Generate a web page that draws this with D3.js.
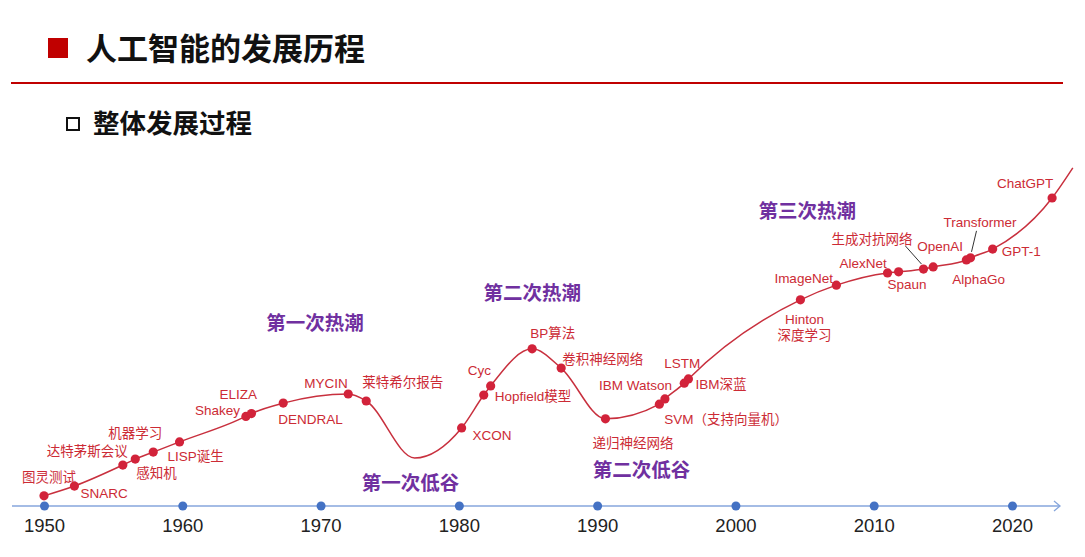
<!DOCTYPE html>
<html>
<head>
<meta charset="utf-8">
<script src="https://cdn.jsdelivr.net/npm/d3@7"></script>
<style>
body { margin: 0; background: #fff; }
svg { display: block; font-family: "Liberation Sans", Arial, "Noto Sans CJK SC", sans-serif; }
</style>
</head>
<body>
<svg id="chart" width="1085" height="557"></svg>
<script>
var W = 1085, H = 557;
var AXIS_Y = 506;

// events along the curve
var eventNames = ['图灵测试', 'SNARC', '达特茅斯会议', '感知机', '机器学习', 'LISP诞生', 'Shakey', 'ELIZA',
    'DENDRAL', 'MYCIN', '莱特希尔报告', 'XCON', 'Hopfield模型', 'Cyc', 'BP算法', '卷积神经网络',
    '递归神经网络', 'SVM（支持向量机）', 'IBM Watson', 'LSTM', 'IBM深蓝', 'Hinton\n深度学习', 'ImageNet',
    'AlexNet', 'Spaun', '生成对抗网络', 'OpenAI', 'AlphaGo', 'Transformer', 'GPT-1', 'ChatGPT'];
var eventYears = [1950, 1952.2, 1955.7, 1956.6, 1957.9, 1959.8, 1964.6, 1965.0,
    1967.3, 1972.0, 1973.3, 1980.2, 1981.8, 1982.3, 1985.3, 1987.4,
    1990.6, 1994.5, 1994.9, 1996.3, 1996.6, 2004.7, 2007.3,
    2011.0, 2011.8, 2013.6, 2014.3, 2016.7, 2017.0, 2018.6, 2022.9];
var eventLevels = [2.9, 5.7, 11.7, 13.4, 15.4, 18.3, 25.6, 26.4,
    29.4, 32.0, 30.0, 22.3, 31.7, 34.3, 44.9, 39.4,
    24.9, 29.1, 30.6, 35.1, 36.3, 58.9, 63.1,
    66.6, 66.9, 67.7, 68.3, 70.3, 70.9, 73.4, 88.0];

// extra knots of the curve (the first trough and the end of the line)
var extraYears = [1976.8, 2024.4];
var extraLevels = [13.7, 96.6];

var tickYears = [1950, 1960, 1970, 1980, 1990, 2000, 2010, 2020];

var phaseNames = ['第一次热潮', '第一次低谷', '第二次热潮', '第二次低谷', '第三次热潮'];
var phaseYears = [1969.6, 1976.5, 1985.3, 1993.2, 2005.2];
var phaseLevels = [52.3, 6.6, 60.9, 10.3, 84.3];

// label layout: [dx, dy, anchor] from the dot, in pixels
var labelLayout = [
    [-22, -19, 'start'], [6, 7, 'start'], [-76, -14, 'start'], [1, 14, 'start'], [-45, -19, 'start'],
    [-12, 14, 'start'], [-51, -6, 'start'], [-32, -19, 'start'], [-5, 16, 'start'], [-44, -11, 'start'],
    [-4, -19, 'start'], [11, 7, 'start'], [11, 1, 'start'], [-23, -16, 'start'], [-2, -16, 'start'],
    [1, -9, 'start'], [-13, 24, 'start'], [5, 15, 'start'], [-66, -14, 'start'], [-20, -20, 'start'],
    [7, 5, 'start'], [4, 19, 'middle'], [-62, -7, 'start'], [-48, -10, 'start'], [-11, 12, 'start'],
    [-92, -30, 'start'], [-16, -21, 'start'], [-14, 19, 'start'], [-27, -36, 'start'], [9, 2, 'start'],
    [-55, -15, 'start']
];
// leader lines: index of event, start offset, end offset
var leaders = [[25, -18, -23, -2, -5], [28, 6, -27, 1, -6]];

var LINE_RED = '#c8303e';
var DOT_RED = '#d2233a';
var TEXT_RED = '#cc2b35';
var PURPLE = '#7030a0';

var svg = d3.select('#chart');

// header
svg.append('rect').attr('x', 48).attr('y', 38).attr('width', 20).attr('height', 20).attr('fill', '#c00000');
svg.append('text').attr('x', 86).attr('y', 60)
    .style('font-family', '"Noto Sans CJK SC", sans-serif')
    .style('font-weight', 700).style('font-size', '31px').attr('fill', '#111')
    .text('人工智能的发展历程');
svg.append('line').attr('x1', 11).attr('x2', 1063).attr('y1', 83).attr('y2', 83)
    .attr('stroke', '#c00000').attr('stroke-width', 2);
svg.append('rect').attr('x', 67).attr('y', 118).attr('width', 12).attr('height', 12)
    .attr('fill', 'none').attr('stroke', '#111').attr('stroke-width', 2);
svg.append('text').attr('x', 93).attr('y', 133)
    .style('font-family', '"Noto Sans CJK SC", sans-serif')
    .style('font-weight', 700).style('font-size', '26.5px').attr('fill', '#111')
    .text('整体发展过程');

var x = d3.scaleLinear().domain([1950, 2020]).range([44, 1012]);
var y = d3.scaleLinear().domain([0, 100]).range([AXIS_Y, 156]);

// time axis
var axisG = svg.append('g').attr('transform', 'translate(0,' + AXIS_Y + ')');
axisG.append('line').attr('x1', 12).attr('x2', 1060).attr('y1', 0).attr('y2', 0)
    .attr('stroke', '#86a6dc').attr('stroke-width', 1.5);
axisG.append('path').attr('d', 'M1054,-5L1060,0L1054,5')
    .attr('fill', 'none').attr('stroke', '#86a6dc').attr('stroke-width', 1.3);

var xAxis = d3.axisBottom(x).tickValues(tickYears).tickFormat(d3.format('d'))
    .tickSize(0).tickPadding(13);
axisG.call(xAxis);
axisG.select('.domain').remove();
axisG.selectAll('.tick text')
    .style('font-family', '"Liberation Sans", Arial, sans-serif')
    .style('font-size', '18.5px').attr('fill', '#222');
axisG.selectAll('.tick').append('circle').attr('r', 4.5).attr('fill', '#4472c4');

// curve
var knots = eventYears.map((d, i) => [d, eventLevels[i]])
    .concat(extraYears.map((d, i) => [d, extraLevels[i]]))
    .sort((a, b) => a[0] - b[0]);
var line = d3.line().x((d) => x(d[0])).y((d) => y(d[1])).curve(d3.curveMonotoneX);
svg.append('path').datum(knots).attr('d', line)
    .attr('fill', 'none').attr('stroke', LINE_RED).attr('stroke-width', 1.5);

// leader lines
svg.selectAll('.leader').data(leaders).enter().append('line')
    .attr('class', 'leader')
    .attr('x1', (d) => x(eventYears[d[0]]) + d[1]).attr('y1', (d) => y(eventLevels[d[0]]) + d[2])
    .attr('x2', (d) => x(eventYears[d[0]]) + d[3]).attr('y2', (d) => y(eventLevels[d[0]]) + d[4])
    .attr('stroke', '#333').attr('stroke-width', 1);

// dots
svg.selectAll('.dot').data(eventYears).enter().append('circle')
    .attr('class', 'dot')
    .attr('cx', (d) => x(d)).attr('cy', (d, i) => y(eventLevels[i]))
    .attr('r', 4.6).attr('fill', DOT_RED);

// event labels
var labels = svg.selectAll('.lbl').data(eventNames).enter().append('text')
    .attr('class', 'lbl')
    .attr('text-anchor', (d, i) => labelLayout[i][2])
    .style('font-size', '13.5px').attr('fill', TEXT_RED);
labels.each(function (d, i) {
    var px = x(eventYears[i]) + labelLayout[i][0];
    var py = y(eventLevels[i]) + labelLayout[i][1];
    d3.select(this).selectAll('tspan').data(d.split('\n')).enter().append('tspan')
        .attr('x', px).attr('y', (t, j) => py + j * 16).attr('dy', '0.35em')
        .text((t) => t);
});

// phase labels
svg.selectAll('.phase').data(phaseNames).enter().append('text')
    .attr('class', 'phase')
    .attr('x', (d, i) => x(phaseYears[i])).attr('y', (d, i) => y(phaseLevels[i]))
    .attr('dy', '0.35em').attr('text-anchor', 'middle')
    .style('font-family', '"Noto Sans CJK SC", sans-serif')
    .style('font-weight', 700).style('font-size', '19.5px').attr('fill', PURPLE)
    .text((d) => d);
</script>
</body>
</html>
